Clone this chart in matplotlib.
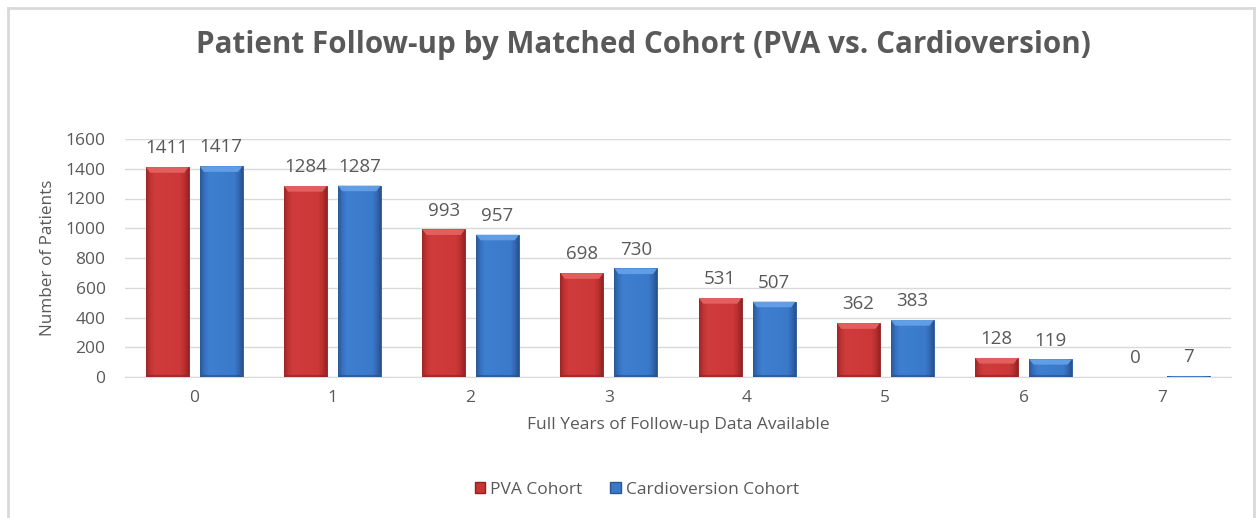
import numpy as np
import matplotlib
matplotlib.use("Agg")
import matplotlib.pyplot as plt
from matplotlib.lines import Line2D
from matplotlib.patches import Patch
from matplotlib.colors import LinearSegmentedColormap

years = [0, 1, 2, 3, 4, 5, 6, 7]
pva = [1411, 1284, 993, 698, 531, 362, 128, 0]
cardio = [1417, 1287, 957, 730, 507, 383, 119, 7]
series_names = ["PVA Cohort", "Cardioversion Cohort"]
title = "Patient Follow-up by Matched Cohort (PVA vs. Cardioversion)"
xlabel = "Full Years of Follow-up Data Available"
ylabel = "Number of Patients"

plt.rcParams['font.family'] = ['Open Sans', 'DejaVu Sans']
txt = "#595959"

fig = plt.figure(figsize=(12.57, 5.18), dpi=100)
ax = fig.add_axes([125/1257, 1-377/518, (1231-125)/1257, (377-139)/518])

x = np.arange(len(years))
w = 0.31
off = 0.195
red_cmap = LinearSegmentedColormap.from_list(
    "r", [(0, "#9E2626"), (0.1, "#C23434"), (0.2, "#D03B3B"), (0.8, "#CC3838"), (0.9, "#B83030"), (1, "#962222")])
blue_cmap = LinearSegmentedColormap.from_list(
    "b", [(0, "#2A5896"), (0.1, "#3570BE"), (0.2, "#3E7FD0"), (0.8, "#3B7ACB"), (0.9, "#3369B5"), (1, "#28518C")])

b1 = ax.bar(x - off, pva, w, color="#C83434", edgecolor="#8E2020", linewidth=0.6, zorder=3)
b2 = ax.bar(x + off, cardio, w, color="#3A78C8", edgecolor="#2A5690", linewidth=0.6, zorder=3)

grad = np.linspace(0, 1, 128).reshape(1, -1)
for bars, cmap, topc, botc in [(b1, red_cmap, "#E56464", "#8E2222"),
                               (b2, blue_cmap, "#66A2E8", "#254E88")]:
    for b in bars:
        h = b.get_height()
        if h <= 0:
            continue
        x0 = b.get_x(); bw = b.get_width()
        im = ax.imshow(grad, cmap=cmap, aspect='auto',
                       extent=[x0, x0 + bw, 0, h], zorder=3.5)
        im.set_clip_path(b)
        bev = min(38, h * 0.3)
        ax.fill([x0, x0 + bw, x0 + bw * 0.9, x0 + bw * 0.1],
                [h, h, h - bev, h - bev], color=topc, alpha=0.9, zorder=4, lw=0)
        bb = min(14, h * 0.2)
        ax.fill([x0, x0 + bw, x0 + bw * 0.95, x0 + bw * 0.05],
                [0, 0, bb, bb], color=botc, alpha=0.6, zorder=4, lw=0)

for xs, vals in [(x - off, pva), (x + off, cardio)]:
    for xi, v in zip(xs, vals):
        ax.annotate(str(v), (xi, v), xytext=(0, 7), textcoords="offset points",
                    ha="center", va="bottom", fontsize=13.5, color=txt)

ax.set_xlim(-0.5, len(years) - 0.5)
ax.set_ylim(0, 1600)
ax.set_yticks(range(0, 1601, 200))
ax.set_xticks(x)
ax.set_xticklabels([str(y) for y in years])
ax.tick_params(axis='both', length=0, labelsize=12.5, colors=txt)
ax.tick_params(axis='y', pad=14)
ax.tick_params(axis='x', pad=9)
ax.grid(axis='y', color="#D9D9D9", linewidth=1, zorder=0)
ax.set_axisbelow(True)
for s in ["top", "right", "left"]:
    ax.spines[s].set_visible(False)
ax.spines["bottom"].set_color("#D9D9D9")
ax.set_xlabel(xlabel, fontsize=12.5, color=txt, labelpad=8)
ax.set_ylabel(ylabel, fontsize=12.3, color=txt, labelpad=7)

fig.text(643/1257, 1-45/518, title, ha="center", va="center",
         fontsize=21.3, fontweight="bold", color=txt)

handles = [Patch(facecolor="#C83434", edgecolor="#8E2020"),
           Patch(facecolor="#3A78C8", edgecolor="#2A5690")]
fig.legend(handles, series_names, loc="center", bbox_to_anchor=(637/1257, 1-490/518),
           ncol=2, frameon=False, fontsize=12.5, handlelength=0.6, handleheight=0.6,
           handletextpad=0.3, columnspacing=1.6, labelcolor=txt)

bc = "#D9D9D9"
fig.add_artist(Line2D([8/1257, 8/1257], [0, 1-8/518], color=bc, lw=2))
fig.add_artist(Line2D([8/1257, 1254/1257], [1-8/518, 1-8/518], color=bc, lw=2))
fig.add_artist(Line2D([1254/1257, 1254/1257], [0, 1-8/518], color=bc, lw=2))

fig.savefig("out.png", dpi=100)
